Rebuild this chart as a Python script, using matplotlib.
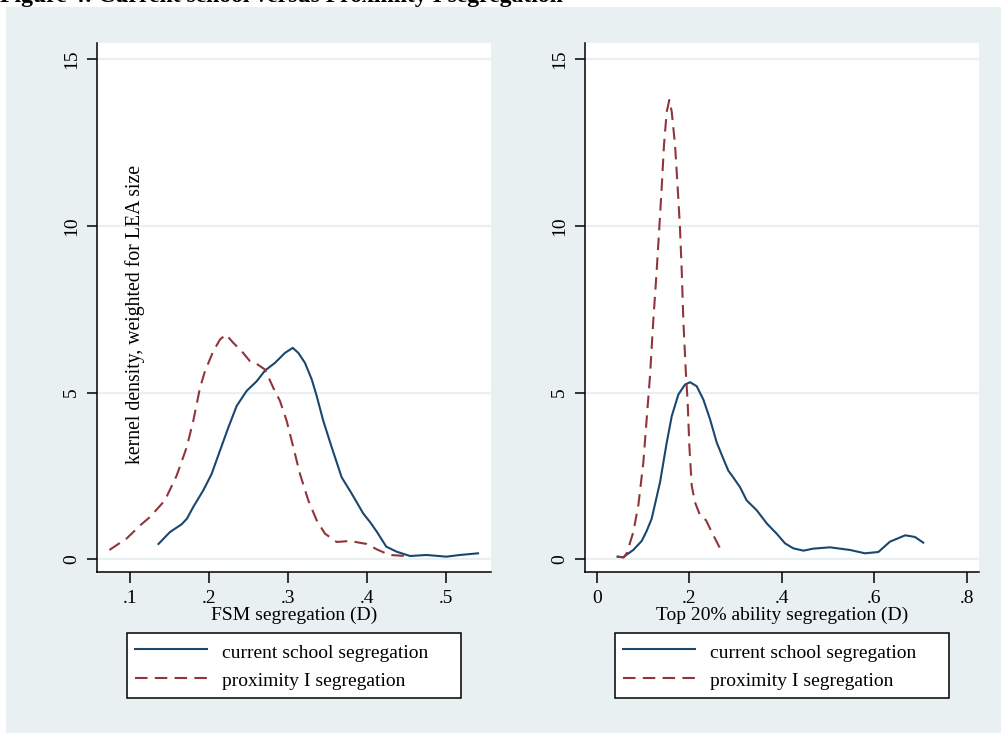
import matplotlib
matplotlib.use("Agg")
import matplotlib.pyplot as plt
import numpy as np
from matplotlib.patches import Rectangle

plt.rcParams['font.family'] = ['Liberation Serif', 'DejaVu Serif']

# Left panel: FSM segregation (D), kernel density
fsm_cur_x = [0.136, 0.1506, 0.1653, 0.172, 0.180, 0.1927, 0.2032, 0.2138, 0.2243, 0.2349,
             0.2475, 0.2602, 0.2707, 0.2833, 0.296, 0.3057, 0.3128, 0.3212, 0.3297, 0.336,
             0.3444, 0.355, 0.3676, 0.3803, 0.395, 0.4034, 0.412, 0.424, 0.437, 0.454,
             0.475, 0.500, 0.517, 0.540]
fsm_cur_y = [0.46, 0.82, 1.05, 1.22, 1.57, 2.07, 2.56, 3.26, 3.95, 4.60,
             5.05, 5.34, 5.66, 5.89, 6.19, 6.34, 6.19, 5.89, 5.40, 4.90,
             4.15, 3.36, 2.46, 1.97, 1.37, 1.12, 0.83, 0.38, 0.23, 0.10,
             0.13, 0.08, 0.13, 0.18]
fsm_prox_x = [0.074, 0.096, 0.113, 0.1253, 0.1442, 0.159, 0.1717, 0.180, 0.1885, 0.1948,
              0.2053, 0.2138, 0.2214, 0.2306, 0.2412, 0.2517, 0.2602, 0.2707, 0.2812, 0.2896,
              0.2981, 0.3065, 0.3149, 0.3254, 0.336, 0.3465, 0.3613, 0.3781, 0.3992, 0.412,
              0.428, 0.449]
fsm_prox_y = [0.28, 0.63, 1.02, 1.27, 1.77, 2.51, 3.36, 4.15, 5.14, 5.64,
              6.24, 6.59, 6.74, 6.49, 6.24, 5.94, 5.86, 5.69, 5.14, 4.75,
              4.15, 3.36, 2.56, 1.77, 1.17, 0.77, 0.52, 0.55, 0.46, 0.30,
              0.13, 0.10]

# Right panel: Top 20% ability segregation (D)
top_cur_x = [0.045, 0.058, 0.0649, 0.079, 0.0973, 0.108, 0.1189, 0.1369, 0.1514, 0.1622,
             0.1765, 0.1909, 0.2018, 0.2162, 0.2306, 0.245, 0.2595, 0.2739, 0.2845, 0.295,
             0.310, 0.324, 0.346, 0.368, 0.389, 0.407, 0.425, 0.447, 0.468, 0.504,
             0.548, 0.580, 0.609, 0.634, 0.667, 0.688, 0.706]
top_cur_y = [0.08, 0.06, 0.14, 0.28, 0.55, 0.85, 1.22, 2.31, 3.50, 4.29,
             4.94, 5.24, 5.31, 5.19, 4.79, 4.20, 3.50, 3.01, 2.66, 2.46,
             2.16, 1.77, 1.47, 1.07, 0.77, 0.48, 0.33, 0.26, 0.32, 0.36,
             0.28, 0.18, 0.22, 0.53, 0.72, 0.67, 0.50]
top_prox_x = [0.045, 0.058, 0.0649, 0.0792, 0.090, 0.1008, 0.108, 0.1152, 0.1224, 0.1297,
              0.1354, 0.1405, 0.1455, 0.1514, 0.157, 0.1622, 0.1693, 0.1751, 0.180, 0.1838,
              0.1873, 0.1924, 0.1967, 0.2003, 0.2054, 0.2125, 0.2234, 0.2364, 0.2486, 0.2666]
top_prox_y = [0.08, 0.06, 0.18, 0.82, 1.62, 2.90, 4.20, 5.49, 7.17, 8.66,
              9.95, 11.14, 12.43, 13.42, 13.77, 13.42, 12.43, 11.14, 9.95, 8.66,
              7.17, 5.68, 4.69, 3.40, 2.21, 1.71, 1.32, 1.17, 0.82, 0.33]

y_ticks = [0, 5, 10, 15]
fsm_ticks = [0.1, 0.2, 0.3, 0.4, 0.5]
fsm_labels = ['.1', '.2', '.3', '.4', '.5']
top_ticks = [0, 0.2, 0.4, 0.6, 0.8]
top_labels = ['0', '.2', '.4', '.6', '.8']

series_names = ['current school segregation', 'proximity I segregation']

BG = '#e9f0f2'
BLUE = '#1a476f'
RED = '#90353b'
W, H = 1001, 733

fig = plt.figure(figsize=(W / 100, H / 100), dpi=100, facecolor='white')
fig.patches.append(Rectangle((6 / W, 0), 1 - 6 / W, 1 - 7 / H, transform=fig.transFigure,
                             facecolor=BG, edgecolor='none', zorder=-10))

# the caption sits partly above the top edge, as in the original scan
fig.text(0, 1 - 2 / H, 'Figure 4: Current school versus Proximity I segregation',
         fontsize=17, fontweight='bold', va='baseline', ha='left')


def panel(x0, xlim, cur, prox, ticks, labels, xlabel, leg_x0):
    ax = fig.add_axes([x0 / W, 1 - 572 / H, 394 / W, 529 / H])
    ax.set_facecolor('white')
    ax.plot(cur[0], cur[1], color=BLUE, lw=1.5, label=series_names[0],
            solid_joinstyle='round')
    ax.plot(prox[0], prox[1], color=RED, lw=1.5, dashes=(6, 3.5), label=series_names[1])
    ax.set_xlim(*xlim)
    ax.set_ylim(-0.38, 15.48)
    ax.set_yticks(y_ticks)
    ax.set_xticks(ticks)
    ax.set_xticklabels(labels)
    for t in ax.get_yticklabels():
        t.set_rotation(90)
        t.set_va('center')
    ax.tick_params(axis='both', direction='out', labelsize=14, width=1.1, color='black')
    ax.tick_params(axis='y', length=7, pad=5)
    ax.tick_params(axis='x', length=8, pad=5)
    ax.grid(axis='y', color=BG, lw=1.6)
    ax.set_axisbelow(True)
    for s in ['top', 'right']:
        ax.spines[s].set_visible(False)
    for s in ['left', 'bottom']:
        ax.spines[s].set_linewidth(1.1)
    ax.set_xlabel(xlabel, fontsize=14, labelpad=0)
    leg = ax.legend(loc='upper left', mode='expand', ncol=1,
                    bbox_to_anchor=(leg_x0 / W, 1 - 633 / H, 334 / W, 0.0001),
                    bbox_transform=fig.transFigure, fontsize=14, frameon=True,
                    fancybox=False, framealpha=1, edgecolor='black', handlelength=3.7,
                    handletextpad=0.75, borderpad=0.42, handleheight=1.2,
                    labelspacing=0.4, borderaxespad=0)
    leg.get_frame().set_linewidth(1.1)
    return ax


panel(97, (0.0583, 0.5564), (fsm_cur_x, fsm_cur_y), (fsm_prox_x, fsm_prox_y),
      fsm_ticks, fsm_labels, 'FSM segregation (D)', 127)
panel(585, (-0.0253, 0.8265), (top_cur_x, top_cur_y), (top_prox_x, top_prox_y),
      top_ticks, top_labels, 'Top 20% ability segregation (D)', 615)

fig.text(135 / W, 1 - 315 / H, 'kernel density, weighted for LEA size', rotation=90,
         fontsize=14.2, ha='center', va='center')

fig.savefig('out.png', dpi=100, facecolor=fig.get_facecolor())
